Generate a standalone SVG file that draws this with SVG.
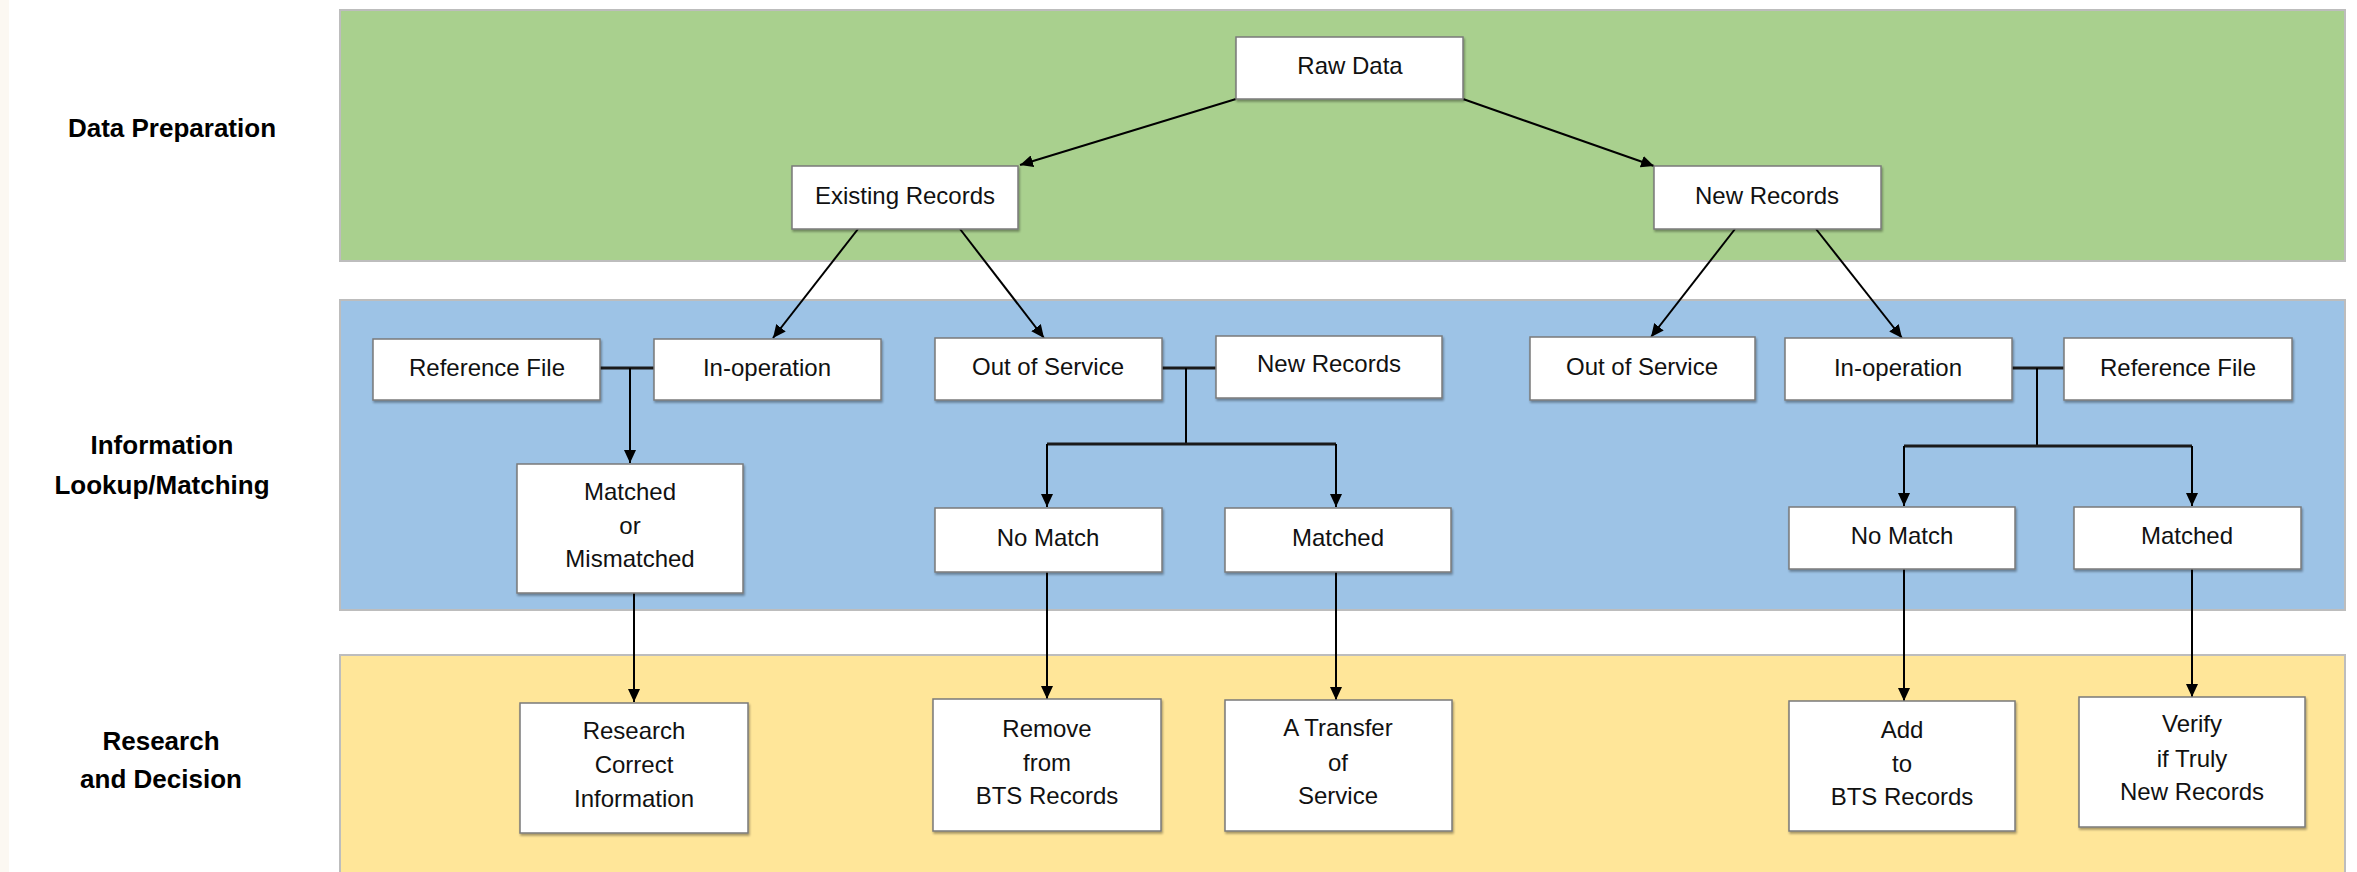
<svg xmlns="http://www.w3.org/2000/svg" width="2357" height="872" viewBox="0 0 2357 872">
<style>
.lbl{font-family:"Liberation Sans",Arial,sans-serif;font-size:26px;font-weight:bold;fill:#000;text-anchor:middle}
.t{font-family:"Liberation Sans",Arial,sans-serif;font-size:24px;fill:#111;text-anchor:middle}
.box{fill:#fff;stroke:#7a7a7a;stroke-width:1.5;filter:url(#sh)}
.panel{stroke:#bdbdbd;stroke-width:2}
.c{stroke:#000;stroke-width:2;fill:none}
.bus{stroke:#1a1a1a;stroke-width:3;fill:none}
.a{marker-end:url(#arr)}
</style>
<defs>
<filter id="sh" x="-10%" y="-10%" width="125%" height="130%">
<feDropShadow dx="1" dy="2" stdDeviation="1.2" flood-color="#000" flood-opacity="0.35"/>
</filter>
<marker id="arr" markerUnits="userSpaceOnUse" markerWidth="14" markerHeight="12" refX="13" refY="6" orient="auto">
<path d="M0,0 L13,6 L0,12 Z" fill="#000"/>
</marker>
</defs>
<rect x="0" y="0" width="2357" height="872" fill="#fff"/>
<rect x="0" y="0" width="9" height="872" fill="#fcf8f2"/>

<g id="panels">
<rect class="panel" x="340" y="10" width="2005" height="251" fill="#a9d08e"/>
<rect class="panel" x="340" y="300" width="2005" height="310" fill="#9dc3e6"/>
<rect class="panel" x="340" y="655" width="2005" height="230" fill="#ffe699"/>
</g>

<g id="lane-labels">
<text class="lbl" x="172" y="137">Data Preparation</text>
<text class="lbl" x="162" y="454">Information</text>
<text class="lbl" x="162" y="494">Lookup/Matching</text>
<text class="lbl" x="161" y="750">Research</text>
<text class="lbl" x="161" y="788">and Decision</text>
</g>

<g id="connectors">
<line class="c a" x1="1236" y1="99" x2="1020" y2="165"/>
<line class="c a" x1="1463" y1="99" x2="1654" y2="166"/>
<line class="c a" x1="858" y1="229" x2="773" y2="338"/>
<line class="c a" x1="960" y1="229" x2="1044" y2="338"/>
<line class="c a" x1="1735" y1="229" x2="1651" y2="337"/>
<line class="c a" x1="1816" y1="229" x2="1902" y2="338"/>
<line class="bus" x1="600" y1="368" x2="654" y2="368"/>
<line class="c a" x1="630" y1="368" x2="630" y2="463"/>
<line class="bus" x1="1162" y1="368" x2="1216" y2="368"/>
<line class="c" x1="1186" y1="368" x2="1186" y2="444"/>
<line class="bus" x1="1047" y1="444" x2="1336" y2="444"/>
<line class="c a" x1="1047" y1="444" x2="1047" y2="507"/>
<line class="c a" x1="1336" y1="444" x2="1336" y2="507"/>
<line class="bus" x1="2012" y1="368" x2="2064" y2="368"/>
<line class="c" x1="2037" y1="368" x2="2037" y2="446"/>
<line class="bus" x1="1904" y1="446" x2="2192" y2="446"/>
<line class="c a" x1="1904" y1="446" x2="1904" y2="506"/>
<line class="c a" x1="2192" y1="446" x2="2192" y2="506"/>
<line class="c a" x1="634" y1="593" x2="634" y2="702"/>
<line class="c a" x1="1047" y1="572" x2="1047" y2="699"/>
<line class="c a" x1="1336" y1="572" x2="1336" y2="700"/>
<line class="c a" x1="1904" y1="569" x2="1904" y2="701"/>
<line class="c a" x1="2192" y1="569" x2="2192" y2="697"/>
</g>

<g id="raw-data"><rect class="box" x="1236" y="37" width="227" height="62"/><text class="t" x="1350" y="74">Raw Data</text></g>
<g id="existing-records"><rect class="box" x="792" y="166" width="226" height="63"/><text class="t" x="905" y="204">Existing Records</text></g>
<g id="new-records-top"><rect class="box" x="1654" y="166" width="227" height="63"/><text class="t" x="1767" y="204">New Records</text></g>

<g id="reference-file-left"><rect class="box" x="373" y="339" width="227" height="61"/><text class="t" x="487" y="376">Reference File</text></g>
<g id="in-operation-left"><rect class="box" x="654" y="339" width="227" height="61"/><text class="t" x="767" y="376">In-operation</text></g>
<g id="out-of-service-left"><rect class="box" x="935" y="338" width="227" height="62"/><text class="t" x="1048" y="375">Out of Service</text></g>
<g id="new-records-mid"><rect class="box" x="1216" y="336" width="226" height="62"/><text class="t" x="1329" y="372">New Records</text></g>
<g id="out-of-service-right"><rect class="box" x="1530" y="337" width="225" height="63"/><text class="t" x="1642" y="375">Out of Service</text></g>
<g id="in-operation-right"><rect class="box" x="1785" y="338" width="227" height="62"/><text class="t" x="1898" y="376">In-operation</text></g>
<g id="reference-file-right"><rect class="box" x="2064" y="338" width="228" height="62"/><text class="t" x="2178" y="376">Reference File</text></g>

<g id="matched-or-mismatched"><rect class="box" x="517" y="464" width="226" height="129"/>
<text class="t" x="630" y="500">Matched</text><text class="t" x="630" y="534">or</text><text class="t" x="630" y="567">Mismatched</text></g>
<g id="no-match-left"><rect class="box" x="935" y="508" width="227" height="64"/><text class="t" x="1048" y="546">No Match</text></g>
<g id="matched-left"><rect class="box" x="1225" y="508" width="226" height="64"/><text class="t" x="1338" y="546">Matched</text></g>
<g id="no-match-right"><rect class="box" x="1789" y="507" width="226" height="62"/><text class="t" x="1902" y="544">No Match</text></g>
<g id="matched-right"><rect class="box" x="2074" y="507" width="227" height="62"/><text class="t" x="2187" y="544">Matched</text></g>

<g id="research-correct-information"><rect class="box" x="520" y="703" width="228" height="130"/>
<text class="t" x="634" y="739">Research</text><text class="t" x="634" y="773">Correct</text><text class="t" x="634" y="807">Information</text></g>
<g id="remove-from-bts"><rect class="box" x="933" y="699" width="228" height="132"/>
<text class="t" x="1047" y="737">Remove</text><text class="t" x="1047" y="771">from</text><text class="t" x="1047" y="804">BTS Records</text></g>
<g id="transfer-of-service"><rect class="box" x="1225" y="700" width="227" height="131"/>
<text class="t" x="1338" y="736">A Transfer</text><text class="t" x="1338" y="771">of</text><text class="t" x="1338" y="804">Service</text></g>
<g id="add-to-bts"><rect class="box" x="1789" y="701" width="226" height="130"/>
<text class="t" x="1902" y="738">Add</text><text class="t" x="1902" y="772">to</text><text class="t" x="1902" y="805">BTS Records</text></g>
<g id="verify-new-records"><rect class="box" x="2079" y="697" width="226" height="130"/>
<text class="t" x="2192" y="732">Verify</text><text class="t" x="2192" y="767">if Truly</text><text class="t" x="2192" y="800">New Records</text></g>
</svg>
